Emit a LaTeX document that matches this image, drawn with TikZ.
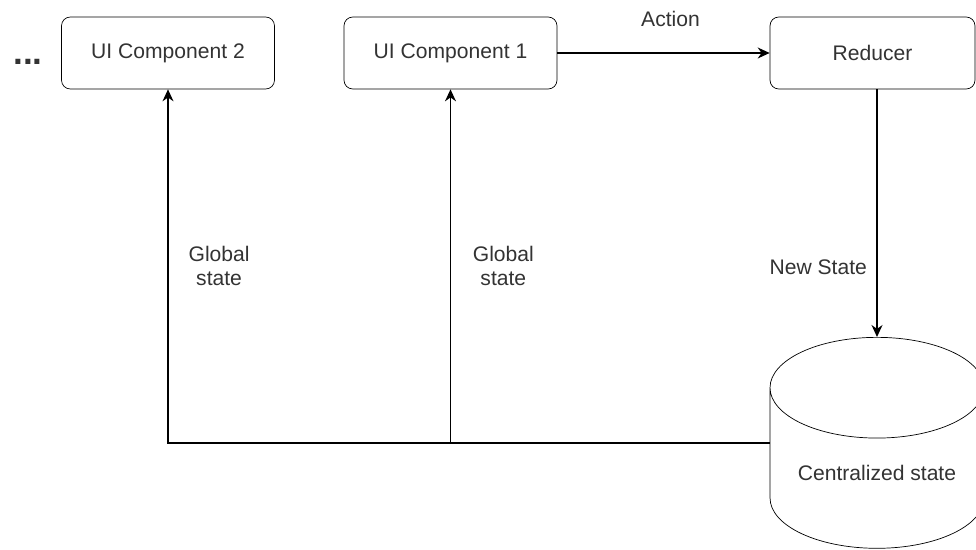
\documentclass[tikz,border=0pt]{standalone}
\usepackage{fontspec}
\setmainfont{Liberation Sans}
\usepackage{tikz}
\usetikzlibrary{positioning,calc,arrows.meta,shapes.geometric}
\definecolor{inkdark}{RGB}{51,51,51}

\begin{document}
\begin{tikzpicture}[x=0.02cm,y=-0.02cm,
  comp/.style={draw=black,rounded corners=5pt,fill=white,align=center,
            font=\fontsize{12}{14}\selectfont,text=inkdark,minimum width=4.26cm,minimum height=1.44cm},
  store/.style={draw=black,cylinder,shape border rotate=90,aspect=8.6,fill=white,
            minimum width=4.28cm,minimum height=4.22cm},
  arr/.style={-{Stealth[length=2.4mm,width=2.2mm]},line width=0.8pt,color=black},
  lbl/.style={font=\fontsize{12}{14}\selectfont,color=inkdark,align=center}]
  \useasboundingbox (0,0) rectangle (976,550);
  \node[comp] (ui2)     at (168,53)   {UI Component 2};
  \node[comp] (ui1)     at (450.5,53) {UI Component 1};
  \node[comp,minimum width=4.1cm] (reducer) at (872.5,53) {Reducer};
  \node[store,anchor=north] (central) at (877,337) {};
  \node[lbl] (centraltxt) at (877,473) {Centralized state};
  \node[lbl,font=\fontsize{20}{24}\selectfont\bfseries,anchor=base] (more) at (28,65) {...};
  \coordinate (mid) at ($(central.north)!0.5!(central.south)$);
  \coordinate (tap) at (central.west |- mid);
  \coordinate (join) at (ui1.south |- mid);
  \draw[arr] (ui1) -- node[lbl,above=11pt,xshift=0.14cm]{Action} (reducer);
  \draw[arr] (reducer.south -| central.north) -- node[lbl,pos=0.72,left=2pt]{New State} (central.north);
  \draw[arr] (tap) -| node[lbl,pos=0.75,right=8pt]{Global\\state} (ui2.south);
  \draw[arr] (join) -- node[lbl,pos=0.5,right=9pt]{Global\\state} (ui1.south);
\end{tikzpicture}
\end{document}
